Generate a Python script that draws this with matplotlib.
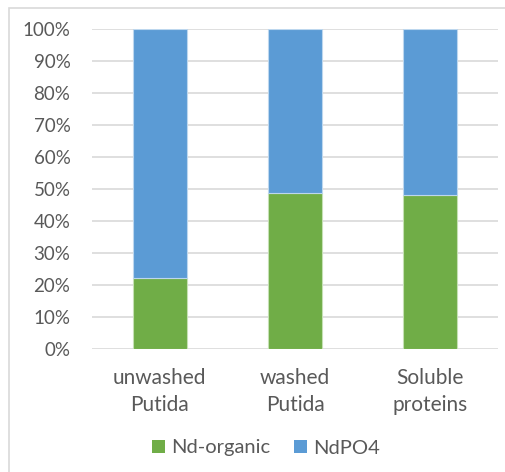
import matplotlib
matplotlib.use("Agg")
import matplotlib.pyplot as plt
from matplotlib.patches import Rectangle, Patch
from matplotlib.ticker import PercentFormatter

categories = ["unwashed\nPutida", "washed\nPutida", "Soluble\nproteins"]
nd_organic = [22.1, 48.6, 48.1]
ndpo4 = [77.9, 51.4, 51.9]
series_names = ["Nd-organic", "NdPO4"]
colors = ["#70AD47", "#5B9BD5"]

W, H = 505, 472
fig = plt.figure(figsize=(W / 100, H / 100), dpi=100)
plt.rcParams["font.family"] = ["Lato", "DejaVu Sans"]
text_color = "#595959"

# outer chart frame (cut off at right and bottom)
fig.patches.append(Rectangle((9 / W, -0.1), 1.2, 1 - 8 / H + 0.1,
                             transform=fig.transFigure, fill=False,
                             edgecolor="#d9d9d9", linewidth=1.2, zorder=0))

ax = fig.add_axes([92 / W, 123 / H, 406 / W, 320 / H])
x = range(len(categories))
ax.bar(x, nd_organic, width=0.4, color=colors[0], edgecolor="#c5e0b4",
       linewidth=0.8, zorder=3)
ax.bar(x, ndpo4, width=0.4, bottom=nd_organic, color=colors[1],
       edgecolor="#bdd7ee", linewidth=0.8, zorder=3)

ax.set_xlim(-0.5, 2.5)
ax.set_ylim(0, 100)
ax.set_yticks(range(0, 101, 10))
ax.yaxis.set_major_formatter(PercentFormatter(decimals=0))
ax.grid(axis="y", color="#d9d9d9", linewidth=1.2, zorder=0)
for s in ax.spines.values():
    s.set_visible(False)
ax.tick_params(axis="y", length=0, pad=15.5, labelsize=13.5, labelcolor=text_color)
ax.tick_params(axis="x", length=0, pad=14, labelsize=15, labelcolor=text_color)
ax.set_xticks(list(x))
ax.set_xticklabels(categories, linespacing=1.4)

handles = [Patch(facecolor=c, edgecolor="none") for c in colors]
fig.legend(handles, series_names, loc="center", bbox_to_anchor=(266 / W, 1 - 448 / H),
           ncol=2, frameon=False, fontsize=14.5, labelcolor=text_color,
           handlelength=0.65, handleheight=0.65, handletextpad=0.3,
           columnspacing=1.2)

fig.savefig("out.png", dpi=100)
